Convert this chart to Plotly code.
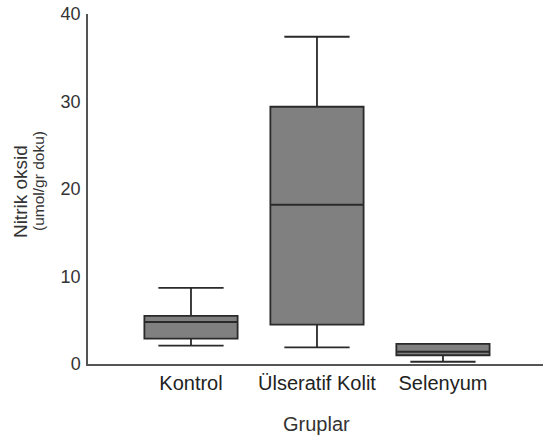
import plotly.graph_objects as go

categories = ["Kontrol", "Ülseratif Kolit", "Selenyum"]
lower_whisker = [2.1, 1.9, 0.26]
q1_values = [2.9, 4.5, 1.0]
median_values = [4.8, 18.2, 1.4]
q3_values = [5.5, 29.4, 2.3]
upper_whisker = [8.7, 37.4, 2.3]
y_ticks = [0, 10, 20, 30, 40]

fig = go.Figure()
fig.add_trace(go.Box(
    x=categories,
    q1=q1_values,
    median=median_values,
    q3=q3_values,
    lowerfence=lower_whisker,
    upperfence=upper_whisker,
    width=0.74,
    whiskerwidth=0.7,
    fillcolor="#808080",
    line=dict(color="#2a2a2a", width=1.8),
    boxpoints=False,
    showlegend=False,
    hoverinfo="skip",
))

font_family = "Liberation Sans, Arial, sans-serif"

fig.update_layout(
    width=543,
    height=438,
    margin=dict(l=88, r=0, t=14, b=74, autoexpand=False),
    paper_bgcolor="white",
    plot_bgcolor="white",
    font=dict(family=font_family, color="#333333"),
    xaxis=dict(
        range=[-0.8175, 2.794],
        showline=True,
        linecolor="#555555",
        linewidth=1.5,
        showgrid=False,
        zeroline=False,
        ticks="",
        tickfont=dict(size=20, color="#222222"),
        fixedrange=True,
    ),
    yaxis=dict(
        range=[0, 40],
        tickvals=y_ticks,
        showline=True,
        linecolor="#555555",
        linewidth=1.5,
        showgrid=False,
        zeroline=False,
        ticks="",
        tickfont=dict(size=18, color="#333333"),
        ticklabelstandoff=2,
        ticklabeloverflow="allow",
    ),
    annotations=[
        dict(text="Gruplar", xref="paper", yref="paper", x=0.503, y=-0.171,
             xanchor="center", yanchor="middle", showarrow=False,
             font=dict(size=20, color="#333333")),
        dict(text="Nitrik oksid", xref="paper", yref="paper", x=-0.1495, y=0.494,
             xanchor="center", yanchor="middle", textangle=-90, showarrow=False,
             font=dict(size=19, color="#333333")),
        dict(text="(umol/gr doku)", xref="paper", yref="paper", x=-0.1077, y=0.523,
             xanchor="center", yanchor="middle", textangle=-90, showarrow=False,
             font=dict(size=15.5, color="#333333")),
    ],
)

# Remove the browser's default 8px body margin so the figure fills the window
fig.write_html(
    "out.html",
    config={"displayModeBar": False},
    post_script="document.body.style.margin='0';",
)
